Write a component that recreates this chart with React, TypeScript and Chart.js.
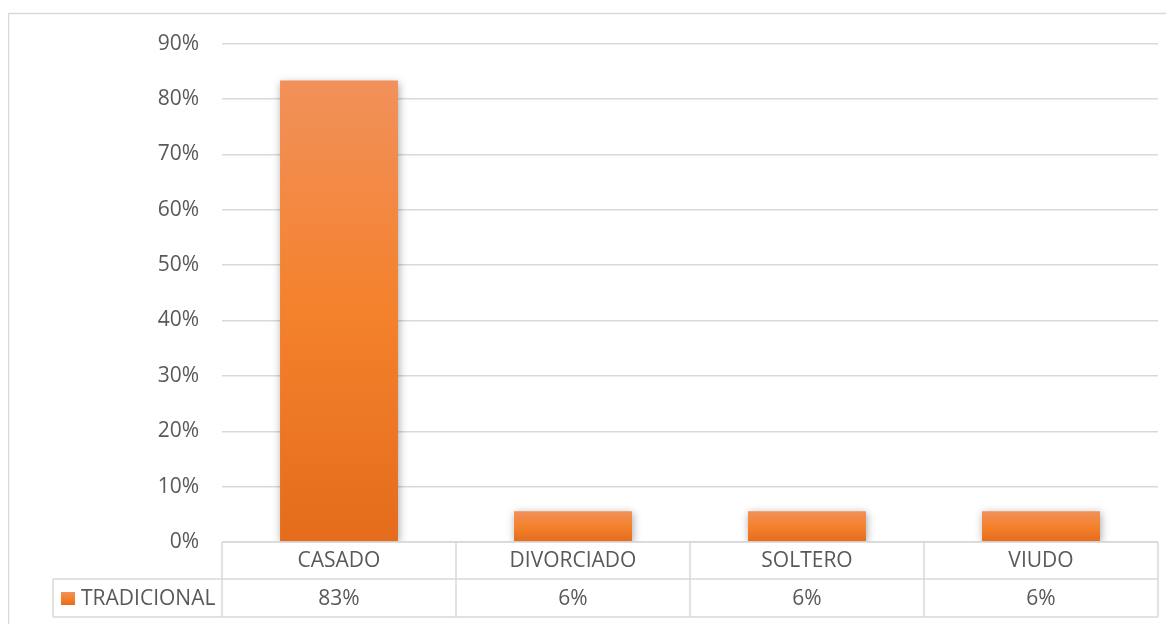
import React, { useEffect, useRef } from "react";
import { Chart, registerables } from "chart.js";

Chart.register(...registerables);

const categories = ["CASADO", "DIVORCIADO", "SOLTERO", "VIUDO"];
const seriesName = "TRADICIONAL";
const values = [83.33, 5.56, 5.56, 5.56];
const yMax = 90;
const yStep = 10;

const FONT = "'Open Sans', sans-serif";
const TEXT = "#595959";
const LINE = "#d9d9d9";

function makeGradient(ctx: CanvasRenderingContext2D, top: number, bottom: number) {
  const g = ctx.createLinearGradient(0, top, 0, bottom);
  g.addColorStop(0, "#F1915A");
  g.addColorStop(0.5, "#F4812C");
  g.addColorStop(1, "#E46C1C");
  return g;
}

const shadowPlugin = {
  id: "barShadow",
  beforeDatasetsDraw(chart: any) {
    const c = chart.ctx;
    c.save();
    c.shadowColor = "rgba(0,0,0,0.35)";
    c.shadowBlur = 8;
    c.shadowOffsetX = 1;
    c.shadowOffsetY = 2;
  },
  afterDatasetsDraw(chart: any) {
    chart.ctx.restore();
  },
};

const tablePlugin = {
  id: "dataTable",
  afterDraw(chart: any) {
    const c: CanvasRenderingContext2D = chart.ctx;
    const ca = chart.chartArea;
    const n = categories.length;
    const w = (ca.right - ca.left) / n;
    const r0 = ca.bottom;
    const r1 = ca.bottom + 37;
    const r2 = ca.bottom + 75;
    const legendLeft = 45;

    c.save();
    c.strokeStyle = LINE;
    c.lineWidth = 1.5;
    c.strokeRect(0.5, 5.5, 1400, 800);

    c.beginPath();
    c.moveTo(ca.left, r0);
    c.lineTo(ca.right, r0);
    c.moveTo(legendLeft, r1);
    c.lineTo(ca.right, r1);
    c.moveTo(legendLeft, r2);
    c.lineTo(ca.right, r2);
    for (let i = 0; i <= n; i++) {
      const x = ca.left + i * w;
      c.moveTo(x, r0);
      c.lineTo(x, r2);
    }
    c.moveTo(legendLeft, r1);
    c.lineTo(legendLeft, r2);
    c.stroke();

    c.fillStyle = TEXT;
    c.font = `21px ${FONT}`;
    c.textAlign = "center";
    c.textBaseline = "middle";
    for (let i = 0; i < n; i++) {
      const cx = ca.left + (i + 0.5) * w;
      c.fillText(categories[i], cx, (r0 + r1) / 2 + 1);
      c.fillText(Math.round(values[i]) + "%", cx, (r1 + r2) / 2 + 1);
    }

    const ky = (r1 + r2) / 2 - 6;
    c.fillStyle = makeGradient(c, ky, ky + 13);
    c.fillRect(legendLeft + 8, ky, 14, 13);
    c.fillStyle = TEXT;
    c.textAlign = "left";
    c.fillText(seriesName, legendLeft + 28, (r1 + r2) / 2 + 1);
    c.restore();
  },
};

export default function App() {
  const ref = useRef<HTMLCanvasElement | null>(null);

  useEffect(() => {
    if (!ref.current) return;
    const chart = new Chart(ref.current, {
      type: "bar",
      data: {
        labels: categories,
        datasets: [
          {
            label: seriesName,
            data: values,
            backgroundColor: (context: any) => {
              const ch = context.chart;
              const ys = ch.scales && ch.scales.y;
              if (!ys || context.raw === undefined) return "#F08030";
              const top = ys.getPixelForValue(context.raw);
              const bottom = ys.getPixelForValue(0);
              if (!isFinite(top) || !isFinite(bottom) || bottom - top < 1) return "#F08030";
              return makeGradient(ch.ctx, top, bottom);
            },
            borderWidth: 0,
            categoryPercentage: 0.504,
            barPercentage: 1,
          },
        ],
      },
      options: {
        responsive: false,
        animation: false,
        layout: { padding: { top: 35, right: 16, bottom: 82, left: 0 } },
        plugins: {
          legend: { display: false },
          tooltip: { enabled: false },
        },
        scales: {
          x: {
            display: false,
          },
          y: {
            min: 0,
            max: yMax,
            afterFit: (scale: any) => {
              scale.width = 214;
            },
            ticks: {
              stepSize: yStep,
              padding: 23,
              color: TEXT,
              font: { family: FONT, size: 21 },
              callback: (v: any) => Math.round(Number(v)) + "%",
            },
            grid: { color: LINE, lineWidth: 1.4, drawTicks: false },
            border: { display: false },
          },
        },
      },
      plugins: [shadowPlugin, tablePlugin],
    });
    return () => chart.destroy();
  }, []);

  return (
    <div style={{ width: 1166, height: 616 }}>
      <canvas ref={ref} width={1166} height={616} />
    </div>
  );
}
